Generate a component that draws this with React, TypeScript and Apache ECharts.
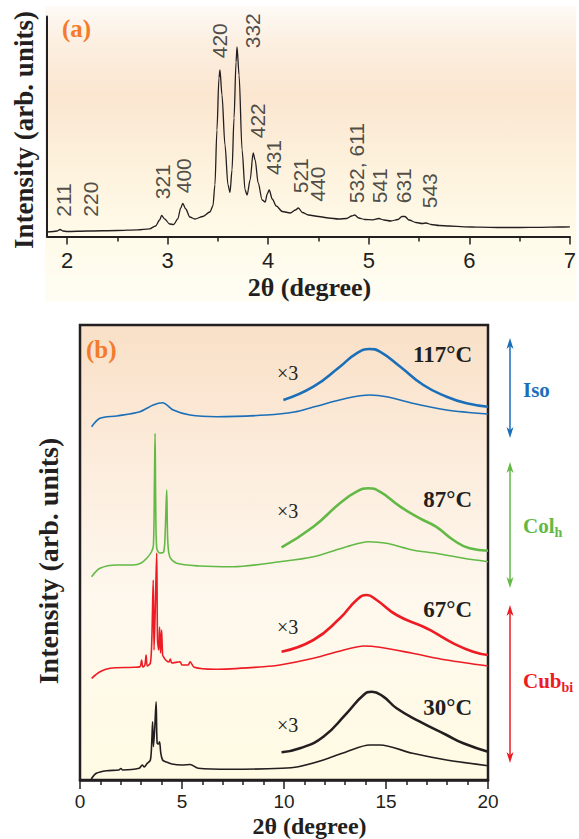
import React, { useEffect, useRef } from 'react';
import * as echarts from 'echarts';

// ---------- Panel (a) data ----------
const aTheta = [1.8, 1.86, 1.9, 1.93, 1.96, 2.0, 2.2, 2.5, 2.7, 2.82, 2.88, 2.92, 2.94, 2.97, 3.02, 3.06, 3.1, 3.13, 3.15, 3.18, 3.22, 3.27, 3.35, 3.42, 3.45, 3.47, 3.49, 3.51, 3.52, 3.54, 3.57, 3.6, 3.62, 3.64, 3.66, 3.68, 3.69, 3.71, 3.74, 3.77, 3.79, 3.82, 3.85, 3.87, 3.9, 3.94, 3.97, 3.99, 4.01, 4.04, 4.08, 4.14, 4.22, 4.27, 4.3, 4.34, 4.4, 4.5, 4.6, 4.7, 4.78, 4.83, 4.86, 4.9, 4.96, 5.04, 5.1, 5.15, 5.22, 5.29, 5.33, 5.36, 5.4, 5.47, 5.53, 5.57, 5.62, 5.7, 5.8, 5.95, 6.1, 6.3, 6.5, 6.7, 6.9, 7.0];
const aIntensity = [4.5, 5, 5.5, 7, 5.5, 5, 5.5, 6, 6.7, 7.7, 10.5, 16.5, 21, 17.5, 12.5, 12, 17.5, 28.5, 33, 27.5, 19.5, 17.5, 20, 24.5, 30.5, 51.5, 106.5, 158.5, 166.5, 141.5, 91.5, 51.5, 44, 66.5, 118.5, 174.5, 189.5, 161.5, 86.5, 46.5, 41.5, 56.5, 83.5, 76.5, 53.5, 36.5, 34.5, 42.5, 46.5, 37.5, 30.5, 25, 23.5, 26.5, 28.5, 24, 21.5, 20, 18.5, 17.5, 18, 20.5, 21.5, 18.5, 17, 16.7, 18, 16.5, 15.5, 17, 20, 20, 16.5, 14, 13, 13.5, 12, 11, 10.5, 9.7, 9.3, 9, 9, 9.2, 9.5, 9.7];

const peakNames = ['211', '220', '321', '400', '420', '332', '422', '431', '521', '440', '532, 611', '541', '631', '543'];
const peakTheta = [1.96, 2.23, 2.95, 3.16, 3.52, 3.84, 3.89, 4.05, 4.32, 4.49, 4.88, 5.11, 5.35, 5.6];
const peakBase = [19.8, 19.8, 37.2, 43.2, 178.2, 188.2, 98.2, 61.5, 43.2, 34.8, 33.2, 33.2, 33.2, 28.2];

const aTicks = [2, 3, 4, 5, 6, 7];
const aMinorTicks = [2.5, 3.5, 4.5, 5.5, 6.5];

// ---------- Panel (b) data ----------
const t30Theta = [0.55, 0.8, 1.3, 1.9, 2.0, 2.1, 2.9, 3.05, 3.15, 3.27, 3.45, 3.52, 3.56, 3.6, 3.66, 3.73, 3.78, 3.85, 3.9, 3.96, 4.05, 4.2, 4.5, 5.0, 5.4, 5.8, 7.4, 9.9, 10.7, 11.93, 13.07, 14.2, 14.7, 16.3, 17.97, 20];
const t30Int = [1, 6.7, 9.3, 10, 11.5, 10, 11.7, 15, 13, 16, 20, 40, 58.3, 33.3, 50, 78.3, 37, 36, 38.3, 27, 20, 18.3, 16, 15, 15.5, 11.7, 10.7, 11.7, 13.3, 20, 28.3, 35, 35, 26.7, 20, 14.3];
const t30x3Theta = [9.88, 10.78, 11.93, 13.07, 13.9, 14.3, 14.87, 15.52, 16.66, 17.97, 18.79, 20];
const t30x3Int = [27.7, 31.7, 43.3, 66.7, 85, 88.3, 83.3, 71.7, 58.3, 45, 36.7, 28.3];

const t67Theta = [0.57, 0.98, 1.47, 2.61, 2.94, 3.02, 3.08, 3.18, 3.24, 3.3, 3.45, 3.52, 3.59, 3.63, 3.7, 3.76, 3.8, 3.86, 3.9, 3.95, 4.0, 4.05, 4.1, 4.2, 4.35, 4.43, 4.5, 4.9, 5.0, 5.3, 5.4, 5.6, 6.6, 9.0, 9.8, 11.44, 13.07, 13.9, 14.7, 16.3, 17.97, 20];
const t67Int = [101.7, 108.3, 111.7, 112.7, 113.3, 120, 113, 115, 125, 114, 117, 140, 200, 130, 180, 227, 140, 130, 153, 127, 150, 125, 123, 120, 118, 121, 117, 118.3, 115, 115, 118.3, 112.7, 110.7, 113.3, 115, 121.7, 130.7, 134, 132.7, 126.7, 120, 114];
const t67x3Theta = [9.88, 11.44, 12.74, 13.56, 14.05, 14.54, 15.52, 16.83, 17.3, 18.3, 19.27, 20];
const t67x3Int = [128.3, 140, 161.7, 180, 185, 180, 165, 153.3, 148.3, 136.7, 128.3, 125];

const t87Theta = [0.57, 0.98, 1.8, 2.61, 3.0, 3.27, 3.5, 3.6, 3.65, 3.68, 3.71, 3.76, 3.9, 4.1, 4.18, 4.25, 4.3, 4.4, 4.74, 5.88, 7.5, 9.8, 11.44, 13.07, 14.13, 15.03, 16.3, 17.45, 18.8, 20];
const t87Int = [203.3, 211.7, 215, 215, 217, 221.7, 228, 235, 300, 346.7, 280, 232, 227, 228, 250, 290, 240, 223.3, 216.7, 214, 213.3, 218.3, 223.3, 233.3, 238.3, 236.7, 230, 226.7, 221.7, 218.3];
const t87x3Theta = [9.88, 11.44, 12.74, 13.56, 14.13, 14.7, 15.7, 16.66, 17.45, 18.3, 19.1, 20];
const t87x3Int = [232.7, 253.3, 276.7, 288.3, 291.7, 288.3, 273.3, 261.7, 253.3, 240, 231.7, 229.3];

const t117Theta = [0.57, 0.98, 1.8, 2.94, 3.59, 4.05, 4.57, 5.39, 6.7, 9.15, 10.5, 11.44, 13.07, 14.2, 15.03, 16.3, 17.97, 20];
const t117Int = [353.3, 361.7, 364, 368.3, 375, 377.3, 370, 365, 363.3, 365, 368, 373, 381.7, 385, 383.3, 376.7, 370, 366];
const t117x3Theta = [9.97, 11.44, 12.74, 13.56, 14.2, 14.7, 15.7, 16.83, 17.97, 18.95, 20];
const t117x3Int = [380, 393.3, 413.3, 426.7, 431, 428.3, 413.3, 395, 383.3, 376.7, 373.3];

const bTicks = [0, 5, 10, 15, 20];

const tempLabels = ['117°C', '87°C', '67°C', '30°C'];
const phaseLabels = ['Iso', 'Col', 'Cub'];
const phaseSubs = ['', 'h', 'bi'];

const BLACK = '#231f20';
const BLUE = '#1b6fb8';
const GREEN = '#63b946';
const RED = '#ed1c24';
const ORANGE = '#f47b2b';
const SERIF = '"Liberation Serif", "Times New Roman", serif';
const NARROW = '"Liberation Sans Narrow", "Liberation Sans", Arial, sans-serif';

const zip = (xs: number[], ys: number[]) => xs.map((x, i) => [x, ys[i]]);

function arrow(x: number, top: number, bottom: number, color: string) {
  return [
    { type: 'line', z: 20, shape: { x1: x, y1: top + 7, x2: x, y2: bottom - 7 }, style: { stroke: color, lineWidth: 1.5 } },
    { type: 'polygon', z: 20, shape: { points: [[x, top], [x - 3.5, top + 11], [x, top + 8], [x + 3.5, top + 11]] }, style: { fill: color } },
    { type: 'polygon', z: 20, shape: { points: [[x, bottom], [x - 3.5, bottom - 11], [x, bottom - 8], [x + 3.5, bottom - 11]] }, style: { fill: color } },
  ];
}

function txt(x: number, y: number, text: string, font: string, fill: string, align = 'left', vAlign = 'middle', rotation = 0) {
  return { type: 'text', z: 30, x, y, rotation, style: { text, font, fill, align, verticalAlign: vAlign } };
}

export default function App() {
  const ref = useRef<HTMLDivElement>(null);
  useEffect(() => {
    const chart = echarts.init(ref.current!, null, { renderer: 'svg' });
    const thin = (data: number[][], color: string) => ({
      type: 'line', xAxisIndex: 2, yAxisIndex: 1, data, showSymbol: false, smooth: 0.3,
      lineStyle: { color, width: 1.6 }, silent: true,
    });
    const thick = (data: number[][], color: string) => ({
      type: 'line', xAxisIndex: 2, yAxisIndex: 1, data, showSymbol: false, smooth: 0.5,
      lineStyle: { color, width: 2.6 }, silent: true,
    });

    const bgA = {
      type: 'rect', z: -10, shape: { x: 45, y: 6, width: 531, height: 296 },
      style: {
        fill: {
          type: 'linear', x: 0, y: 0, x2: 0, y2: 1,
          colorStops: [
            { offset: 0, color: '#fefaf6' }, { offset: 0.12, color: '#fcefe1' }, { offset: 0.3, color: '#fbe6d0' },
            { offset: 0.55, color: '#fdf2dd' }, { offset: 0.78, color: '#fffbe9' }, { offset: 1, color: '#fffdf4' },
          ],
        },
      },
    };
    const bgB = {
      type: 'rect', z: -10, shape: { x: 80, y: 325, width: 408, height: 455 },
      style: {
        fill: {
          type: 'linear', x: 0, y: 0, x2: 0, y2: 1,
          colorStops: [
            { offset: 0, color: '#f9e0c7' }, { offset: 0.3, color: '#fcecdc' }, { offset: 0.6, color: '#fef8ee' }, { offset: 1, color: '#fffbe3' },
          ],
        },
      },
    };

    const graphics: any[] = [
      bgA, bgB,
      txt(62, 28, '(a)', `bold 25px ${SERIF}`, ORANGE),
      txt(86, 349, '(b)', `bold 25px ${SERIF}`, ORANGE),
      txt(24, 130, 'Intensity (arb. units)', `bold 27px ${SERIF}`, BLACK, 'center', 'middle', Math.PI / 2),
      txt(48.5, 561, 'Intensity (arb. units)', `bold 28px ${SERIF}`, BLACK, 'center', 'middle', Math.PI / 2),
      txt(309.5, 287, '2θ (degree)', `bold 26px ${SERIF}`, BLACK, 'center'),
      txt(309.5, 826, '2θ (degree)', `bold 24px ${SERIF}`, BLACK, 'center'),
      txt(277, 373, '×3', `20px ${SERIF}`, BLACK),
      txt(277, 511, '×3', `20px ${SERIF}`, BLACK),
      txt(277, 627, '×3', `20px ${SERIF}`, BLACK),
      txt(277, 725, '×3', `20px ${SERIF}`, BLACK),
      txt(472, 354, tempLabels[0], `bold 23px ${SERIF}`, BLACK, 'right'),
      txt(472, 499, tempLabels[1], `bold 23px ${SERIF}`, BLACK, 'right'),
      txt(472, 609, tempLabels[2], `bold 23px ${SERIF}`, BLACK, 'right'),
      txt(472, 707, tempLabels[3], `bold 23px ${SERIF}`, BLACK, 'right'),
      ...arrow(510, 338, 438, BLUE),
      ...arrow(510, 462, 588, GREEN),
      ...arrow(510, 605, 763, RED),
      txt(523, 390, phaseLabels[0], `bold 21px ${SERIF}`, BLUE),
      txt(523, 536.2, phaseLabels[1], `bold 21px ${SERIF}`, GREEN, 'left', 'bottom'),
      txt(554.5, 539.7, phaseSubs[1], `bold 14px ${SERIF}`, GREEN, 'left', 'bottom'),
      txt(523, 691.2, phaseLabels[2], `bold 21px ${SERIF}`, RED, 'left', 'bottom'),
      txt(561.5, 694, phaseSubs[2], `bold 14px ${SERIF}`, RED, 'left', 'bottom'),
    ];

    const option: any = {
      animation: false,
      backgroundColor: '#ffffff',
      grid: [
        { left: 47, top: 16.5, width: 527, height: 220, containLabel: false },
        { left: 80, top: 325, width: 408, height: 455, show: true, borderColor: BLACK, borderWidth: 2.5, backgroundColor: 'transparent', containLabel: false },
      ],
      xAxis: [
        {
          type: 'value', gridIndex: 0, min: 1.8, max: 7, position: 'bottom',
          axisLine: { show: true, onZero: false, lineStyle: { color: BLACK, width: 2 } },
          axisTick: { show: true, customValues: aTicks, length: 8, lineStyle: { color: BLACK, width: 1.5 } },
          axisLabel: { show: true, customValues: aTicks, fontSize: 22, fontFamily: NARROW, color: BLACK, margin: 13 },
          splitLine: { show: false },
        },
        {
          type: 'value', gridIndex: 0, min: 1.8, max: 7, position: 'bottom',
          axisLine: { show: false, onZero: false },
          axisTick: { show: true, customValues: aMinorTicks, length: 5, lineStyle: { color: BLACK, width: 1.5 } },
          axisLabel: { show: false },
          splitLine: { show: false },
        },
        {
          type: 'value', gridIndex: 1, min: 0, max: 20, interval: 5, position: 'bottom',
          axisLine: { show: true, onZero: false, lineStyle: { color: BLACK, width: 2.5 } },
          axisTick: { show: true, length: 9, lineStyle: { color: BLACK, width: 1.5 } },
          minorTick: { show: true, splitNumber: 5, length: 5, lineStyle: { color: BLACK, width: 1.5 } },
          axisLabel: { show: true, customValues: bTicks, fontSize: 19, fontFamily: NARROW, color: BLACK, margin: 12 },
          splitLine: { show: false },
        },
      ],
      yAxis: [
        {
          type: 'value', gridIndex: 0, min: 0, max: 220,
          axisLine: { show: true, onZero: false, lineStyle: { color: BLACK, width: 2 } },
          axisTick: { show: false }, axisLabel: { show: false }, splitLine: { show: false },
        },
        {
          type: 'value', gridIndex: 1, min: 0, max: 455,
          axisLine: { show: false }, axisTick: { show: false }, axisLabel: { show: false }, splitLine: { show: false },
        },
      ],
      series: [
        {
          type: 'line', xAxisIndex: 0, yAxisIndex: 0, data: zip(aTheta, aIntensity), showSymbol: false,
          smooth: 0.3, smoothMonotone: 'x', lineStyle: { color: BLACK, width: 1.3 }, silent: true,
        },
        {
          type: 'scatter', xAxisIndex: 0, yAxisIndex: 0, symbolSize: 0, silent: true,
          data: peakNames.map((n, i) => ({ name: n, value: [peakTheta[i], peakBase[i]] })),
          label: {
            show: true, formatter: '{b}', rotate: 90, position: [0, 0], align: 'left', verticalAlign: 'middle',
            fontSize: 21, fontFamily: NARROW, color: BLACK,
          },
        },
        thin(zip(t117Theta, t117Int), BLUE),
        thick(zip(t117x3Theta, t117x3Int), BLUE),
        thin(zip(t87Theta, t87Int), GREEN),
        thick(zip(t87x3Theta, t87x3Int), GREEN),
        thin(zip(t67Theta, t67Int), RED),
        thick(zip(t67x3Theta, t67x3Int), RED),
        thin(zip(t30Theta, t30Int), BLACK),
        thick(zip(t30x3Theta, t30x3Int), BLACK),
      ],
      graphic: { elements: graphics },
    };
    chart.setOption(option);
    return () => chart.dispose();
  }, []);
  return <div ref={ref} style={{ position: 'absolute', left: 0, top: 0, width: 579, height: 839 }} />;
}
